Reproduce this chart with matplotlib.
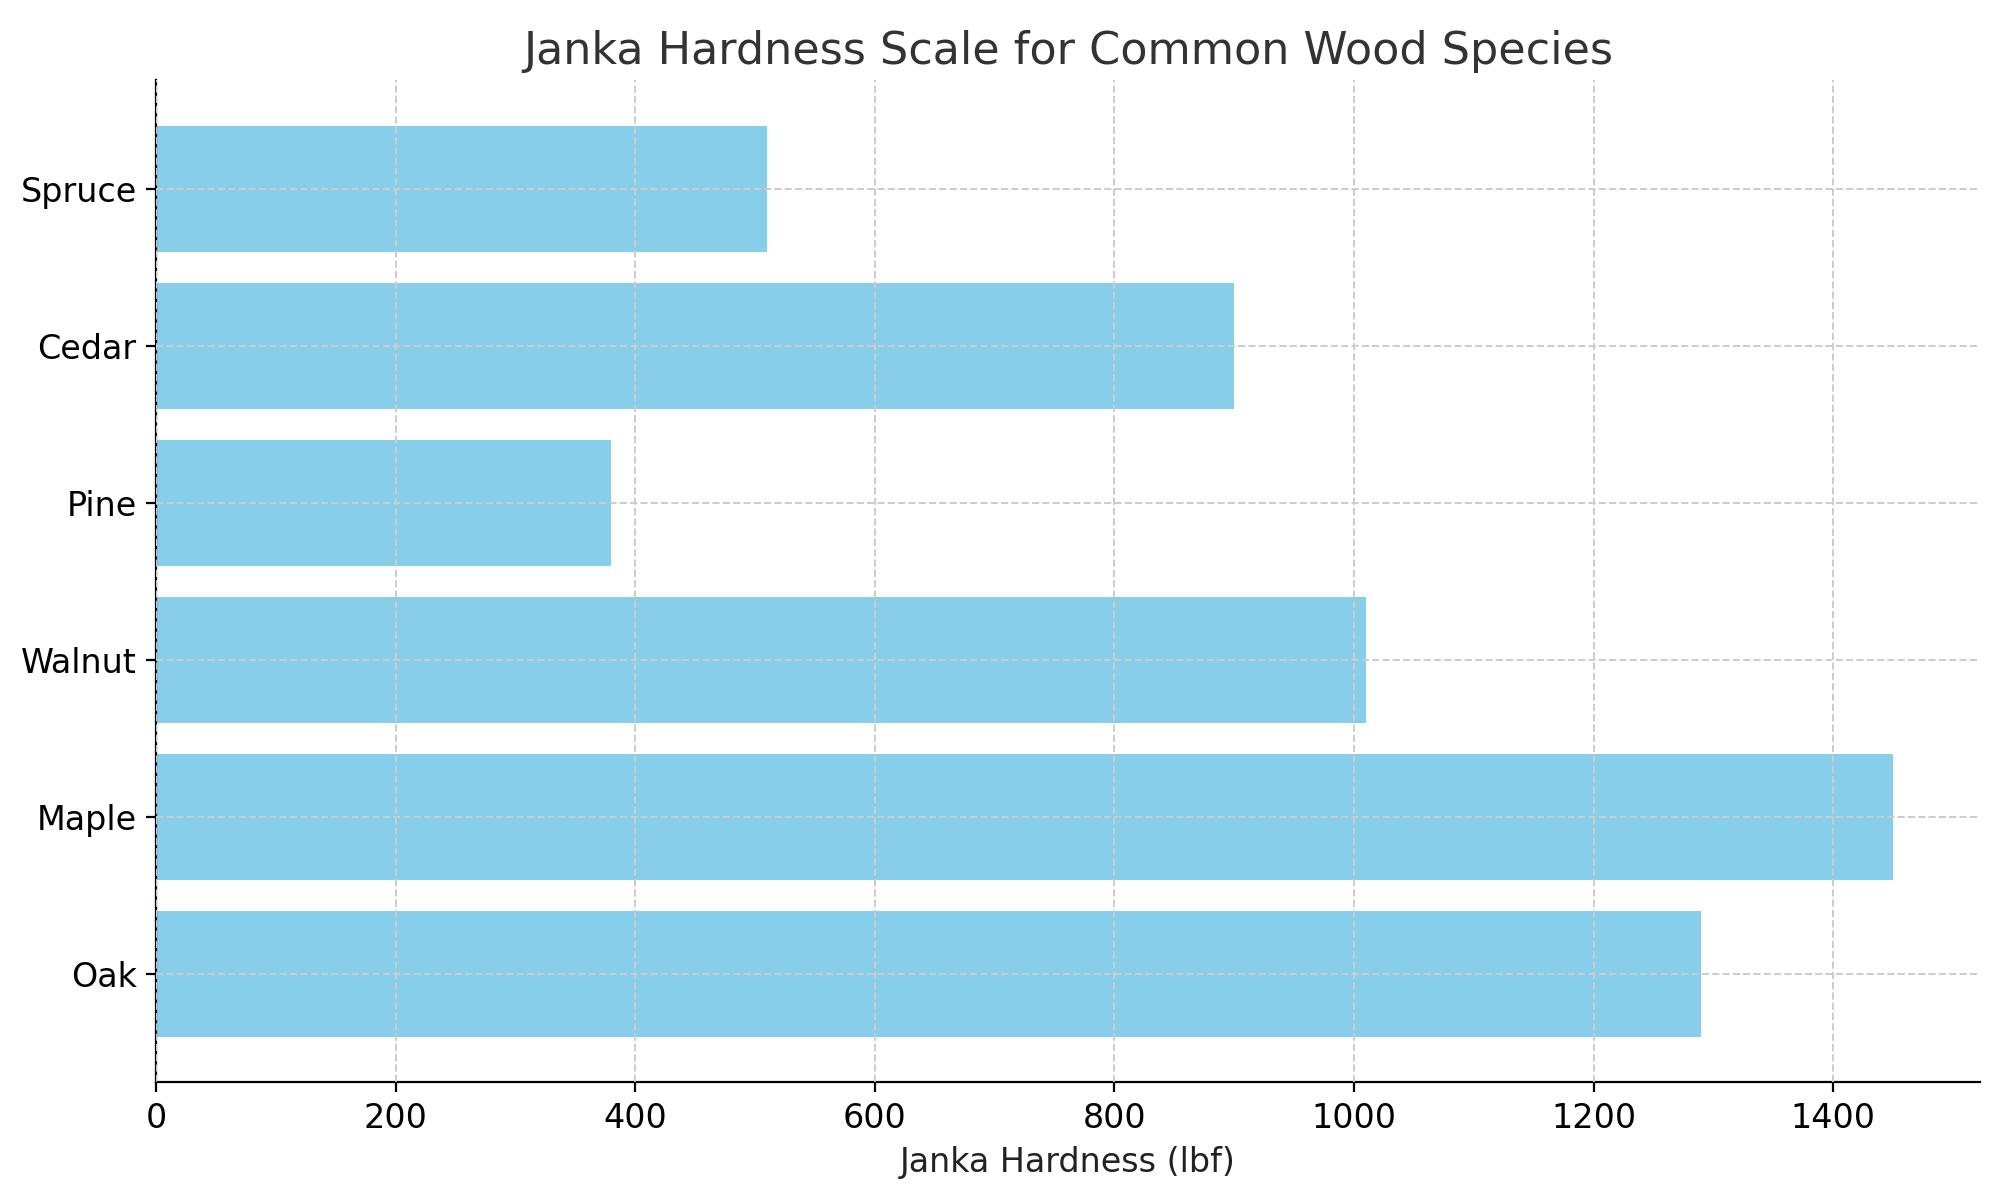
import matplotlib
matplotlib.use("Agg")
import matplotlib.pyplot as plt

species = ["Oak", "Maple", "Walnut", "Pine", "Cedar", "Spruce"]
hardness = [1290, 1450, 1010, 380, 900, 510]

fig, ax = plt.subplots(figsize=(10, 6), dpi=200)
fig.subplots_adjust(left=0.078, right=0.99, top=0.933, bottom=0.098)
ax.barh(species, hardness, color="skyblue")
ax.set_title("Janka Hardness Scale for Common Wood Species", fontsize=16, color="#333333")
ax.set_xlabel("Janka Hardness (lbf)", fontsize=12, color="#222222")
ax.tick_params(labelsize=12)
ax.grid(True, linestyle="--", color="#cccccc", linewidth=0.7)
ax.set_axisbelow(False)
for s in ["top", "right"]:
    ax.spines[s].set_visible(False)
fig.savefig("out.png")
